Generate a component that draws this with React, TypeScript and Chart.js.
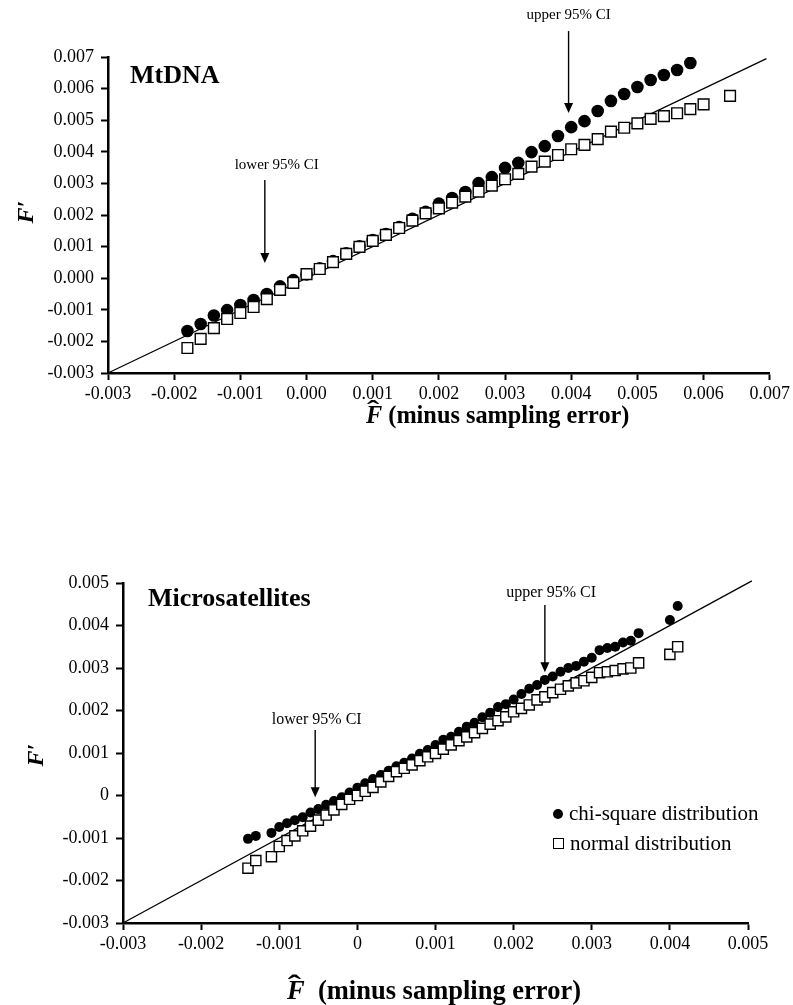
import React, { useEffect, useRef } from "react";
import { Chart, registerables } from "chart.js";

Chart.register(...registerables);

const FONT = '"Liberation Serif", "Times New Roman", serif';

// ---------- Top panel (MtDNA) ----------
const topChiX = [
  -0.0018, -0.0016, -0.0014, -0.0012, -0.001, -0.0008, -0.0006, -0.0004, -0.0002,
  0.0, 0.0002, 0.0004, 0.0006, 0.0008, 0.001, 0.0012, 0.0014, 0.0016, 0.0018, 0.002,
  0.0022, 0.0024, 0.0026, 0.0028, 0.003, 0.0032, 0.0034, 0.0036, 0.0038, 0.004,
  0.0042, 0.0044, 0.0046, 0.0048, 0.005, 0.0052, 0.0054, 0.0056, 0.0058,
];
const topChiY = [
  -0.00167, -0.00145, -0.00118, -0.00101, -0.00085, -0.00069, -0.0005, -0.00026, -0.00006,
  0.00012, 0.00031, 0.00054, 0.00079, 0.00101, 0.00121, 0.0014, 0.00162, 0.00188, 0.0021, 0.00236,
  0.00254, 0.00273, 0.00301, 0.0032, 0.00349, 0.00365, 0.00399, 0.00418, 0.0045, 0.00478,
  0.00497, 0.00529, 0.00561, 0.00583, 0.00605, 0.00627, 0.00643, 0.00659, 0.00681,
];
const topNormX = [
  -0.0018, -0.0016, -0.0014, -0.0012, -0.001, -0.0008, -0.0006, -0.0004, -0.0002,
  0.0, 0.0002, 0.0004, 0.0006, 0.0008, 0.001, 0.0012, 0.0014, 0.0016, 0.0018, 0.002,
  0.0022, 0.0024, 0.0026, 0.0028, 0.003, 0.0032, 0.0034, 0.0036, 0.0038, 0.004,
  0.0042, 0.0044, 0.0046, 0.0048, 0.005, 0.0052, 0.0054, 0.0056, 0.0058, 0.006, 0.0064,
];
const topNormY = [
  -0.00221, -0.00192, -0.00158, -0.00129, -0.0011, -0.00091, -0.00066, -0.00037, -0.00015,
  0.00013, 0.00029, 0.00051, 0.00077, 0.00099, 0.00118, 0.00137, 0.00159, 0.00182, 0.00205, 0.00221,
  0.00239, 0.00258, 0.00274, 0.00293, 0.00313, 0.0033, 0.00353, 0.00369, 0.0039, 0.00408,
  0.00422, 0.0044, 0.00464, 0.00476, 0.0049, 0.00504, 0.00513, 0.00522, 0.00535, 0.0055, 0.00577,
];
const topRefLine = [-0.003, 0.00695];
const topXTicks = [-0.003, -0.002, -0.001, 0, 0.001, 0.002, 0.003, 0.004, 0.005, 0.006, 0.007];
const topXLabels = ["-0.003", "-0.002", "-0.001", "0.000", "0.001", "0.002", "0.003", "0.004", "0.005", "0.006", "0.007"];
const topYTicks = [-0.003, -0.002, -0.001, 0, 0.001, 0.002, 0.003, 0.004, 0.005, 0.006, 0.007];
const topYLabels = ["-0.003", "-0.002", "-0.001", "0.000", "0.001", "0.002", "0.003", "0.004", "0.005", "0.006", "0.007"];
const topArrows = [
  { label: "lower 95% CI", x: -0.00063, from: 0.00311, to: 0.00048, labelX: -0.00045, labelY: 0.00358 },
  { label: "upper 95% CI", x: 0.00396, from: 0.00782, to: 0.00523, labelX: 0.00396, labelY: 0.00833 },
];

// ---------- Bottom panel (Microsatellites) ----------
const botX = [
  -0.0014, -0.0013, -0.0011, -0.001, -0.0009, -0.0008, -0.0007, -0.0006, -0.0005, -0.0004,
  -0.0003, -0.0002, -0.0001, 0.0, 0.0001, 0.0002, 0.0003, 0.0004, 0.0005, 0.0006,
  0.0007, 0.0008, 0.0009, 0.001, 0.0011, 0.0012, 0.0013, 0.0014, 0.0015, 0.0016,
  0.0017, 0.0018, 0.0019, 0.002, 0.0021, 0.0022, 0.0023, 0.0024, 0.0025, 0.0026,
  0.0027, 0.0028, 0.0029, 0.003, 0.0031, 0.0032, 0.0033, 0.0034, 0.0035, 0.0036,
  0.004, 0.0041,
];
const botChiY = [
  -0.00102, -0.00095, -0.00088, -0.00074, -0.00065, -0.00058, -0.00051, -0.0004, -0.00032, -0.00022,
  -0.00013, -0.00004, 0.00007, 0.00018, 0.00029, 0.00039, 0.00048, 0.00058, 0.00069, 0.00077,
  0.00087, 0.00098, 0.00107, 0.00119, 0.00131, 0.00138, 0.0015, 0.00162, 0.00171, 0.00184,
  0.00195, 0.00208, 0.00215, 0.00226, 0.00239, 0.00251, 0.0026, 0.00272, 0.0028, 0.00291,
  0.003, 0.00305, 0.00315, 0.00324, 0.00342, 0.00347, 0.0035, 0.0036, 0.00364, 0.00382,
  0.00413, 0.00446,
];
const botNormY = [
  -0.00171, -0.00153, -0.00144, -0.0012, -0.00106, -0.00095, -0.00083, -0.00072, -0.00058, -0.00046,
  -0.00034, -0.00021, -0.00009, 0.0, 0.0001, 0.00019, 0.00032, 0.00045, 0.00056, 0.00064,
  0.00072, 0.00082, 0.00091, 0.00099, 0.00109, 0.00119, 0.00129, 0.00138, 0.00148, 0.00158,
  0.00168, 0.00176, 0.00185, 0.00197, 0.00205, 0.00213, 0.00225, 0.00232, 0.00242, 0.0025,
  0.00258, 0.00265, 0.0027, 0.00278, 0.00289, 0.00291, 0.00294, 0.00298, 0.003, 0.00312,
  0.00332, 0.0035,
];
const botRefLine = [-0.003, 0.00505];
const botXTicks = [-0.003, -0.002, -0.001, 0, 0.001, 0.002, 0.003, 0.004, 0.005];
const botXLabels = ["-0.003", "-0.002", "-0.001", "0", "0.001", "0.002", "0.003", "0.004", "0.005"];
const botYTicks = [-0.003, -0.002, -0.001, 0, 0.001, 0.002, 0.003, 0.004, 0.005];
const botYLabels = ["-0.003", "-0.002", "-0.001", "0", "0.001", "0.002", "0.003", "0.004", "0.005"];
const botArrows = [
  { label: "lower 95% CI", x: -0.00054, from: 0.00154, to: -0.00004, labelX: -0.00052, labelY: 0.00178 },
  { label: "upper 95% CI", x: 0.0024, from: 0.00448, to: 0.0029, labelX: 0.00248, labelY: 0.00476 },
];

const legendLabels = ["chi-square distribution", "normal distribution"];

type Arrow = { label: string; x: number; from: number; to: number; labelX: number; labelY: number };

function makeArrowPlugin(items: Arrow[], fontSize: number) {
  return {
    id: "ciArrows",
    afterDraw(chart: any) {
      const { ctx } = chart;
      const xs = chart.scales.x;
      const ys = chart.scales.y;
      ctx.save();
      for (const a of items) {
        const px = xs.getPixelForValue(a.x);
        const y0 = ys.getPixelForValue(a.from);
        const y1 = ys.getPixelForValue(a.to);
        ctx.strokeStyle = "#000";
        ctx.fillStyle = "#000";
        ctx.lineWidth = 1.4;
        ctx.beginPath();
        ctx.moveTo(px, y0);
        ctx.lineTo(px, y1 - 8);
        ctx.stroke();
        ctx.beginPath();
        ctx.moveTo(px - 4.5, y1 - 10);
        ctx.lineTo(px + 4.5, y1 - 10);
        ctx.lineTo(px, y1);
        ctx.closePath();
        ctx.fill();
        ctx.font = `${fontSize}px ${FONT}`;
        ctx.textAlign = "center";
        ctx.textBaseline = "middle";
        ctx.fillText(a.label, xs.getPixelForValue(a.labelX), ys.getPixelForValue(a.labelY));
      }
      ctx.restore();
    },
  };
}

type PanelProps = {
  top: number;
  height: number;
  padTop: number;
  padRight: number;
  yAxisW: number;
  xAxisH: number;
  xMin: number;
  xMax: number;
  yMin: number;
  yMax: number;
  xTicks: number[];
  xLabels: string[];
  yTicks: number[];
  yLabels: string[];
  chiX: number[];
  chiY: number[];
  normX: number[];
  normY: number[];
  ref: number[];
  arrows: Arrow[];
  arrowFont: number;
  chiR: number;
  normR: number;
};

function Panel(p: PanelProps) {
  const canvasRef = useRef<HTMLCanvasElement | null>(null);
  useEffect(() => {
    const canvas = canvasRef.current;
    if (!canvas) return;
    const chart = new Chart(canvas, {
      type: "scatter",
      data: {
        datasets: [
          {
            label: legendLabels[1],
            data: p.normX.map((x, i) => ({ x, y: p.normY[i] })),
            pointStyle: "rect",
            pointRadius: p.normR,
            backgroundColor: "#fff",
            borderColor: "#000",
            borderWidth: 1.4,
            order: 0,
          },
          {
            label: legendLabels[0],
            data: p.chiX.map((x, i) => ({ x, y: p.chiY[i] })),
            pointStyle: "circle",
            pointRadius: p.chiR,
            backgroundColor: "#000",
            borderColor: "#000",
            borderWidth: 0,
            order: 1,
          },
          {
            label: "y = x",
            data: p.ref.map((v) => ({ x: v, y: v })),
            showLine: true,
            pointRadius: 0,
            borderColor: "#000",
            borderWidth: 1.3,
            order: 2,
            clip: false,
          } as any,
        ],
      },
      options: {
        animation: false,
        responsive: false,
        events: [],
        layout: { padding: { top: p.padTop, right: p.padRight, left: 0, bottom: 0 } },
        plugins: { legend: { display: false }, tooltip: { enabled: false } },
        scales: {
          x: {
            type: "linear",
            min: p.xMin,
            max: p.xMax,
            afterBuildTicks: (s: any) => {
              s.ticks = p.xTicks.map((v) => ({ value: v }));
            },
            afterFit: (s: any) => {
              s.height = p.xAxisH;
            },
            ticks: {
              callback: (_v: any, i: number) => p.xLabels[i],
              font: { family: FONT, size: 18 },
              color: "#000",
              maxRotation: 0,
              autoSkip: false,
              padding: 3,
            },
            grid: { drawOnChartArea: false, drawTicks: true, tickLength: 7, tickWidth: 2, tickColor: "#000" },
            border: { display: true, color: "#000", width: 2.5 },
          },
          y: {
            type: "linear",
            min: p.yMin,
            max: p.yMax,
            afterBuildTicks: (s: any) => {
              s.ticks = p.yTicks.map((v) => ({ value: v }));
            },
            afterFit: (s: any) => {
              s.width = p.yAxisW;
            },
            ticks: {
              callback: (_v: any, i: number) => p.yLabels[i],
              font: { family: FONT, size: 18 },
              color: "#000",
              autoSkip: false,
              padding: 7,
            },
            grid: { drawOnChartArea: false, drawTicks: true, tickLength: 7, tickWidth: 2, tickColor: "#000" },
            border: { display: true, color: "#000", width: 2.5 },
          },
        },
      },
      plugins: [makeArrowPlugin(p.arrows, p.arrowFont)],
    } as any);
    return () => chart.destroy();
  }, []);
  return (
    <canvas
      ref={canvasRef}
      width={793}
      height={p.height}
      style={{ position: "absolute", left: 0, top: p.top, width: 793, height: p.height }}
    />
  );
}

function XTitle({ left, top, size, gap }: { left: number; top: number; size: number; gap: string }) {
  return (
    <div
      style={{
        position: "absolute",
        left,
        top,
        font: `bold ${size}px ${FONT}`,
        whiteSpace: "pre",
        lineHeight: `${size}px`,
      }}
    >
      <span style={{ position: "relative", fontStyle: "italic", display: "inline-block" }}>
        F
        <span
          style={{
            position: "absolute",
            left: 3,
            top: -size * 0.2,
            fontStyle: "normal",
            transform: "scaleX(1.5)",
          }}
        >
          ˆ
        </span>
      </span>
      {gap + "(minus sampling error)"}
    </div>
  );
}

function YTitle({ cx, cy }: { cx: number; cy: number }) {
  return (
    <div
      style={{
        position: "absolute",
        left: cx - 20,
        top: cy - 12,
        width: 40,
        height: 24,
        lineHeight: "24px",
        textAlign: "center",
        font: `bold italic 24px ${FONT}`,
        transform: "rotate(-90deg)",
      }}
    >
      F′
    </div>
  );
}

export default function App() {
  return (
    <div style={{ position: "absolute", left: 0, top: 0, width: 793, height: 1005, background: "#fff", overflow: "hidden" }}>
      <Panel
        top={0}
        height={440}
        padTop={57}
        padRight={22}
        yAxisW={108}
        xAxisH={67}
        xMin={-0.003}
        xMax={0.007}
        yMin={-0.003}
        yMax={0.007}
        xTicks={topXTicks}
        xLabels={topXLabels}
        yTicks={topYTicks}
        yLabels={topYLabels}
        chiX={topChiX}
        chiY={topChiY}
        normX={topNormX}
        normY={topNormY}
        ref={topRefLine}
        arrows={topArrows}
        arrowFont={15}
        chiR={6.3}
        normR={7.6}
      />
      <Panel
        top={540}
        height={465}
        padTop={43}
        padRight={45}
        yAxisW={123}
        xAxisH={82}
        xMin={-0.003}
        xMax={0.005}
        yMin={-0.003}
        yMax={0.005}
        xTicks={botXTicks}
        xLabels={botXLabels}
        yTicks={botYTicks}
        yLabels={botYLabels}
        chiX={botX}
        chiY={botChiY}
        normX={botX}
        normY={botNormY}
        ref={botRefLine}
        arrows={botArrows}
        arrowFont={16}
        chiR={5}
        normR={7.2}
      />
      <div style={{ position: "absolute", left: 130, top: 62, font: `bold 26px ${FONT}`, lineHeight: "26px", whiteSpace: "nowrap" }}>
        MtDNA
      </div>
      <div style={{ position: "absolute", left: 148, top: 585, font: `bold 26px ${FONT}`, lineHeight: "26px", whiteSpace: "nowrap" }}>
        Microsatellites
      </div>
      <XTitle left={366} top={403} size={24.3} gap=" " />
      <XTitle left={287} top={977} size={26.5} gap="  " />
      <YTitle cx={24} cy={212} />
      <YTitle cx={34} cy={755} />
      <div style={{ position: "absolute", left: 553, top: 801, font: `21px ${FONT}`, lineHeight: "24px", whiteSpace: "nowrap" }}>
        <span style={{ display: "inline-block", width: 10, height: 10, borderRadius: 5, background: "#000", marginRight: 6, verticalAlign: "1px" }} />
        {legendLabels[0]}
      </div>
      <div style={{ position: "absolute", left: 553, top: 831, font: `21px ${FONT}`, lineHeight: "24px", whiteSpace: "nowrap" }}>
        <span style={{ display: "inline-block", width: 9, height: 9, border: "1px solid #000", background: "#fff", marginRight: 6, verticalAlign: "1px" }} />
        {legendLabels[1]}
      </div>
    </div>
  );
}
